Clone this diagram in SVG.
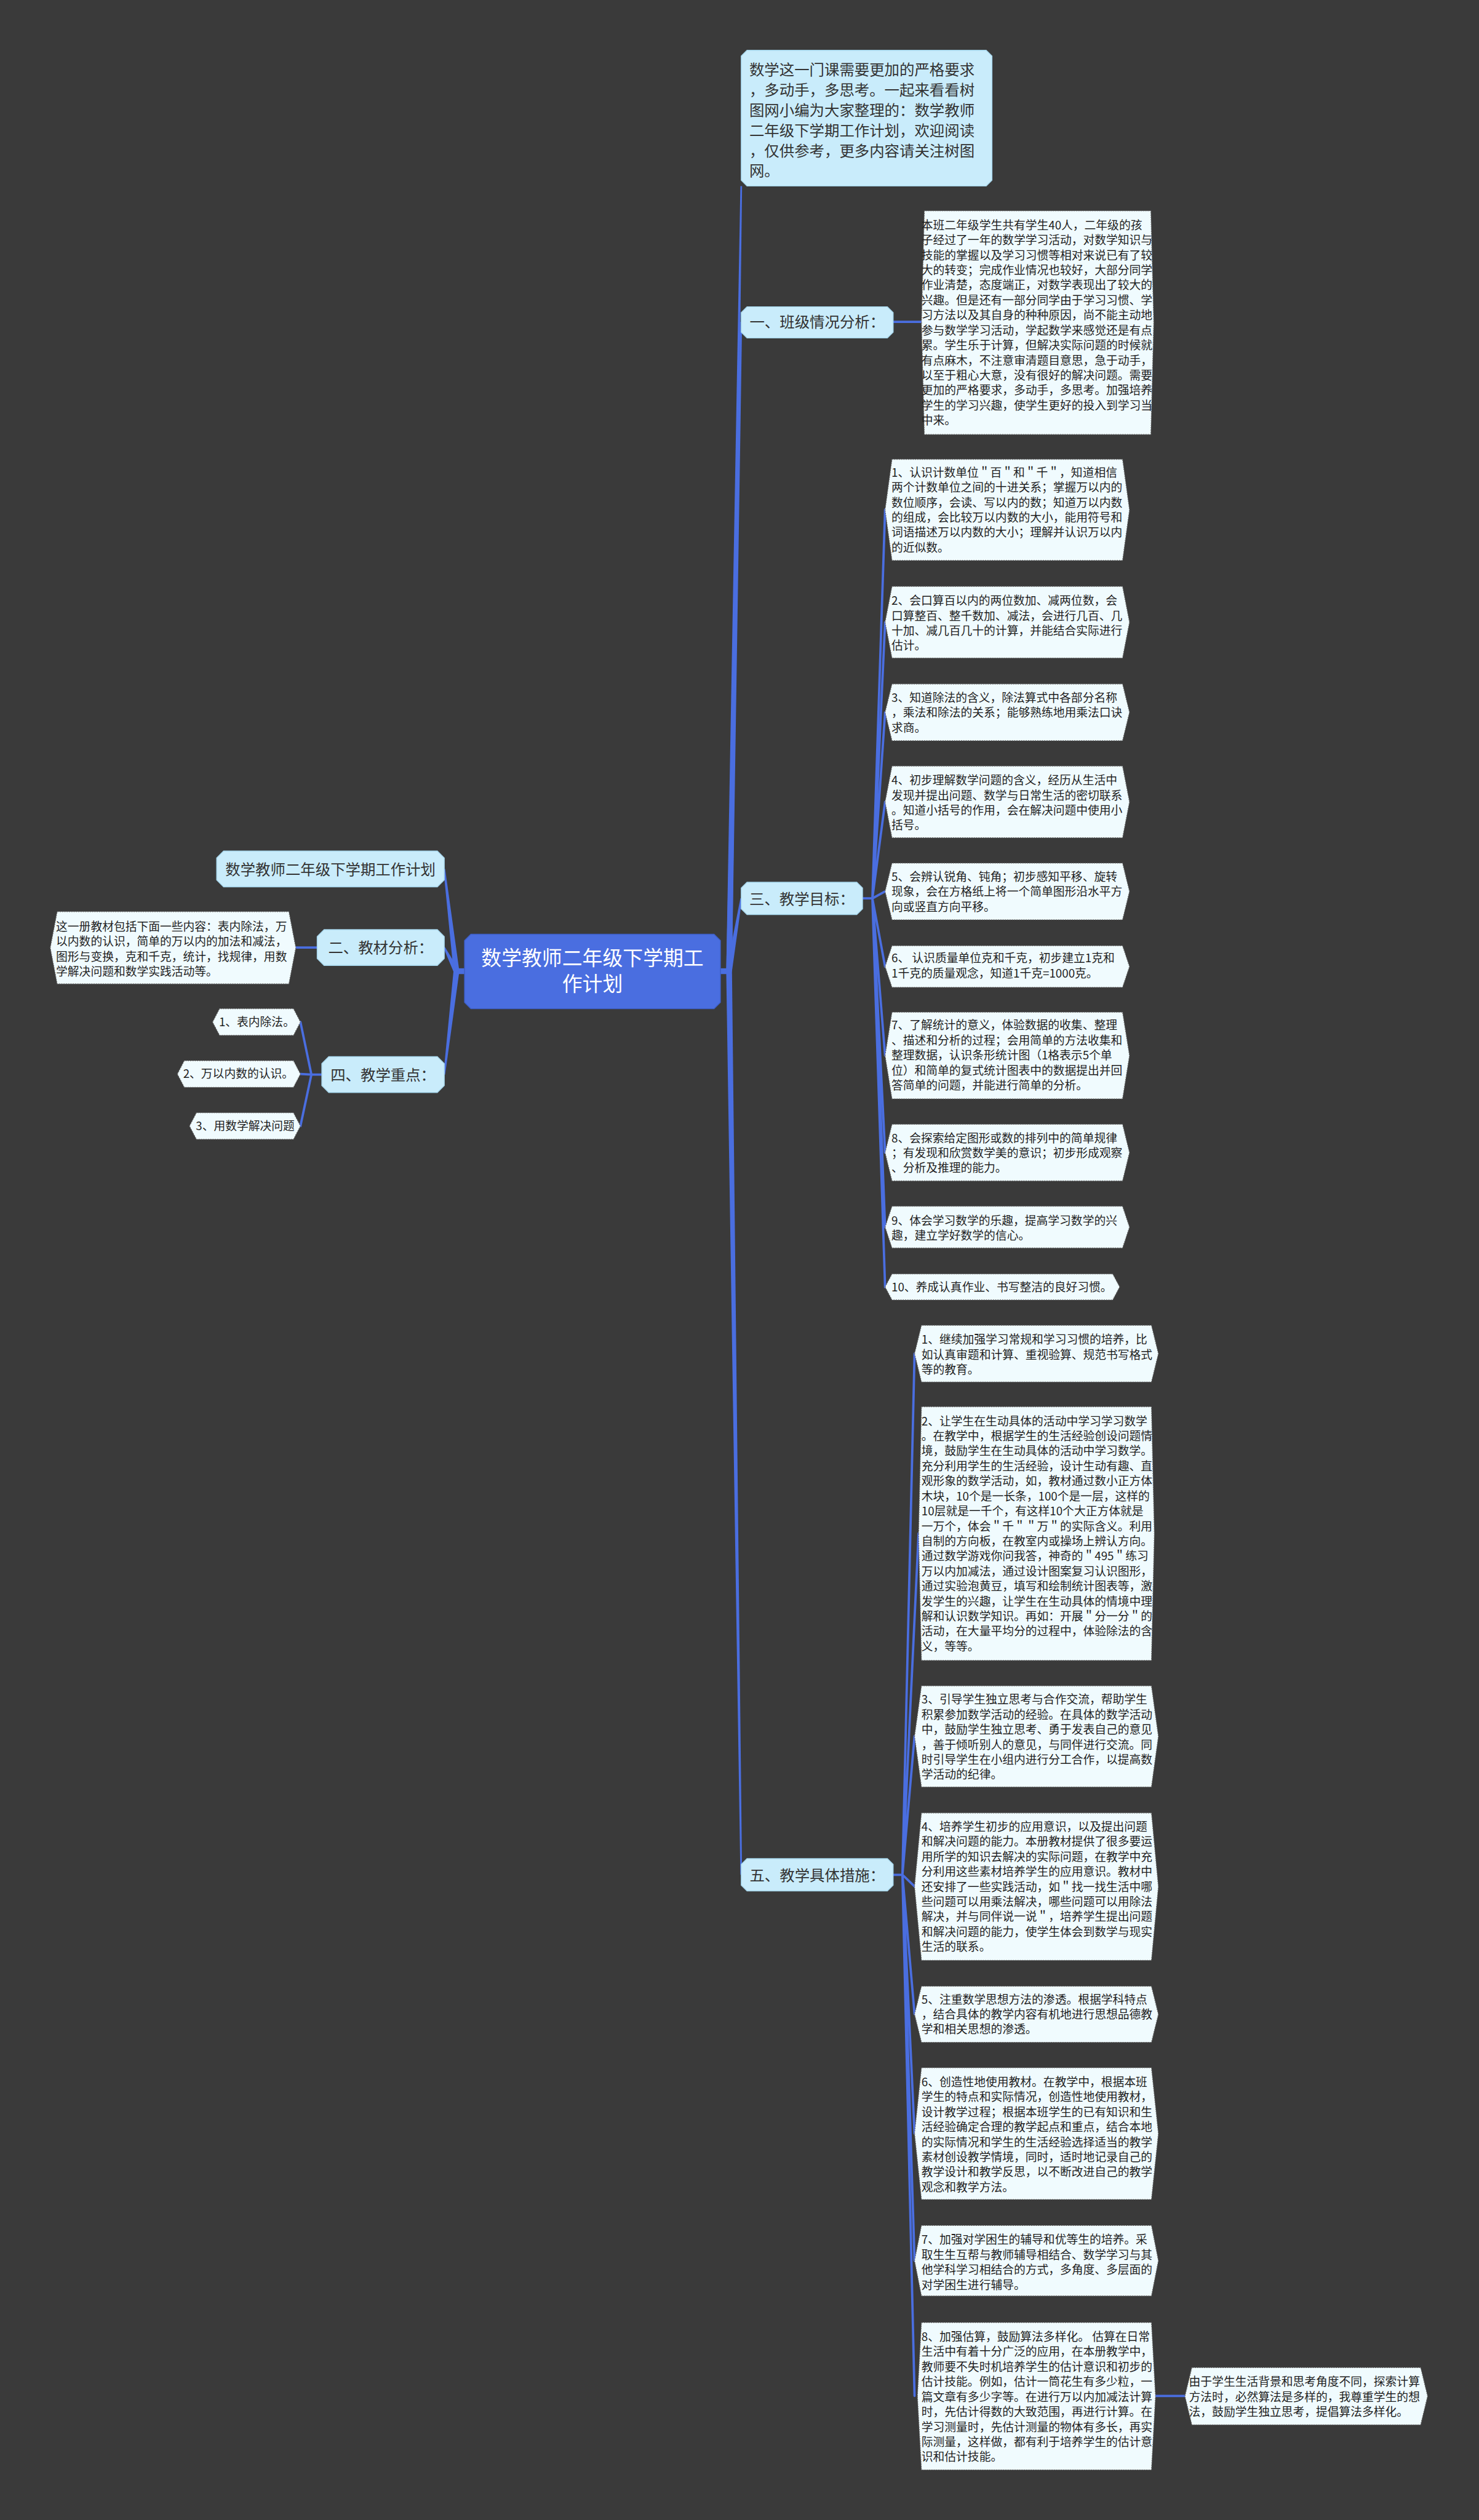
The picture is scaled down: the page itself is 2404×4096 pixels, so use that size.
<svg xmlns="http://www.w3.org/2000/svg" width="2404" height="4096" viewBox="0 0 2404 4096">
<style>
.bg{fill:#3a3a3a}
.l2{fill:#c9ecfb;stroke:#a6d6ec;stroke-width:1.5}
.l3{fill:#f0fbfe;stroke:#666;stroke-width:1.3;stroke-dasharray:2 2}
.root{fill:#4a6ee0;stroke:#3d5ec4;stroke-width:1.5}
.t3{font-family:"Noto Sans CJK SC","Noto Sans",sans-serif;font-size:20px;fill:#1e1e1e}
.t2{font-family:"Noto Sans CJK SC","Noto Sans",sans-serif;font-size:26px;fill:#333}
.tr{font-family:"Noto Sans CJK SC","Noto Sans",sans-serif;font-size:35px;fill:#fff;text-anchor:middle}
.mid{text-anchor:middle}
.conn{stroke:#4a6ee0;stroke-width:4;fill:none;stroke-linecap:round}
.trunk{fill:#4a6ee0}
</style>
<rect class="bg" x="0" y="0" width="2404" height="4096"/>
<g transform="scale(0.9390625)">
<g id="connectors">
<rect class="trunk" x="1245" y="1676" width="19" height="10"/>
<polygon class="trunk" points="1267,1681 1284.5,322 1281.5,322 1257,1681"/>
<polygon class="trunk" points="1267,1681 1284.5,557 1281.5,557 1257,1681"/>
<polygon class="trunk" points="1266.9,1681.8 1284.5,1555.2 1281.5,1554.8 1257.1,1680.2"/>
<polygon class="trunk" points="1257,1681 1281.5,3245 1284.5,3245 1267,1681"/>
<rect class="trunk" x="788" y="1676" width="18" height="10"/>
<polygon class="trunk" points="795,1680.4 770.5,1503.8 767.5,1504.2 785,1681.6"/>
<polygon class="trunk" points="794.4,1678.7 770.3,1639.3 767.7,1640.7 785.6,1683.3"/>
<polygon class="trunk" points="785,1680.4 767.5,1859.8 770.5,1860.2 795,1681.6"/>
<path class="conn" d="M512,1640H549"/>
<path class="conn" d="M557,1860H539M539,1860L520,1769M539,1860L520,1859M539,1860L520,1949"/>
<path class="conn" d="M1546,557H1595"/>
<path class="conn" d="M1493,1555H1510M1510,1555L1532,882M1510,1555L1532,1077M1510,1555L1532,1233M1510,1555L1532,1388M1510,1555L1532,1543M1510,1555L1532,1673M1510,1555L1532,1827M1510,1555L1532,1995M1510,1555L1532,2124M1510,1555L1532,2228"/>
<path class="conn" d="M1546,3245H1562M1562,3245L1583,2343M1562,3245L1590,2654M1562,3245L1583,3005M1562,3245L1583,3265M1562,3245L1583,3486M1562,3245L1583,3693M1562,3245L1583,3913M1562,3245L1583,4147"/>
<path class="conn" d="M2000,4147H2051"/>
</g>
<g id="root">
<polygon class="root" points="815,1617 1236,1617 1247,1628 1247,1735 1236,1746 815,1746 804,1735 804,1628"/>
<text class="tr" x="1025.5" y="1671">数学教师二年级下学期工</text>
<text class="tr" x="1025.5" y="1716">作计划</text>
</g>
<g id="intro">
<polygon class="l2" points="1293,87 1707,87 1717,97 1717,312 1707,322 1293,322 1283,312 1283,97"/>
<text class="t2" x="1297" y="130"><tspan x="1297">数学这一门课需要更加的严格要求</tspan><tspan x="1297" dy="35">，多动手，多思考。一起来看看树</tspan><tspan x="1297" dy="35">图网小编为大家整理的：数学教师</tspan><tspan x="1297" dy="35">二年级下学期工作计划，欢迎阅读</tspan><tspan x="1297" dy="35">，仅供参考，更多内容请关注树图</tspan><tspan x="1297" dy="35">网。</tspan></text>
</g>
<g id="b1">
<polygon class="l2" points="1293,531 1536,531 1546,541 1546,575 1536,585 1293,585 1283,575 1283,541"/>
<text class="t2 mid" x="1414.5" y="567">一、班级情况分析：</text>
</g>
<g id="b1c">
<polygon class="l3" points="1595,558.5 1600,365 1992,365 1997,558.5 1992,752 1600,752"/>
<text class="t3" x="1595" y="397"><tspan x="1595">本班二年级学生共有学生40人，二年级的孩</tspan><tspan x="1595" dy="26">子经过了一年的数学学习活动，对数学知识与</tspan><tspan x="1595" dy="26">技能的掌握以及学习习惯等相对来说已有了较</tspan><tspan x="1595" dy="26">大的转变；完成作业情况也较好，大部分同学</tspan><tspan x="1595" dy="26">作业清楚，态度端正，对数学表现出了较大的</tspan><tspan x="1595" dy="26">兴趣。但是还有一部分同学由于学习习惯、学</tspan><tspan x="1595" dy="26">习方法以及其自身的种种原因，尚不能主动地</tspan><tspan x="1595" dy="26">参与数学学习活动，学起数学来感觉还是有点</tspan><tspan x="1595" dy="26">累。学生乐于计算，但解决实际问题的时候就</tspan><tspan x="1595" dy="26">有点麻木，不注意审清题目意思，急于动手，</tspan><tspan x="1595" dy="26">以至于粗心大意，没有很好的解决问题。需要</tspan><tspan x="1595" dy="26">更加的严格要求，多动手，多思考。加强培养</tspan><tspan x="1595" dy="26">学生的学习兴趣，使学生更好的投入到学习当</tspan><tspan x="1595" dy="26">中来。</tspan></text>
</g>
<g id="b3">
<polygon class="l2" points="1293,1527 1483,1527 1493,1537 1493,1573 1483,1583 1293,1583 1283,1573 1283,1537"/>
<text class="t2 mid" x="1388" y="1565">三、教学目标：</text>
</g>
<g id="g1">
<polygon class="l3" points="1532,882.5 1544,795 1943,795 1955,882.5 1943,970 1544,970"/>
<text class="t3" x="1543" y="825"><tspan x="1543">1、认识计数单位＂百＂和＂千＂，知道相信</tspan><tspan x="1543" dy="26">两个计数单位之间的十进关系；掌握万以内的</tspan><tspan x="1543" dy="26">数位顺序，会读、写以内的数；知道万以内数</tspan><tspan x="1543" dy="26">的组成，会比较万以内数的大小，能用符号和</tspan><tspan x="1543" dy="26">词语描述万以内数的大小；理解并认识万以内</tspan><tspan x="1543" dy="26">的近似数。</tspan></text>
</g>
<g id="g2">
<polygon class="l3" points="1532,1077 1544,1015 1943,1015 1955,1077 1943,1139 1544,1139"/>
<text class="t3" x="1543" y="1047"><tspan x="1543">2、会口算百以内的两位数加、减两位数，会</tspan><tspan x="1543" dy="26">口算整百、整千数加、减法，会进行几百、几</tspan><tspan x="1543" dy="26">十加、减几百几十的计算，并能结合实际进行</tspan><tspan x="1543" dy="26">估计。</tspan></text>
</g>
<g id="g3">
<polygon class="l3" points="1532,1233 1544,1184 1943,1184 1955,1233 1943,1282 1544,1282"/>
<text class="t3" x="1543" y="1215"><tspan x="1543">3、知道除法的含义，除法算式中各部分名称</tspan><tspan x="1543" dy="26">，乘法和除法的关系；能够熟练地用乘法口诀</tspan><tspan x="1543" dy="26">求商。</tspan></text>
</g>
<g id="g4">
<polygon class="l3" points="1532,1388 1544,1326 1943,1326 1955,1388 1943,1450 1544,1450"/>
<text class="t3" x="1543" y="1358"><tspan x="1543">4、初步理解数学问题的含义，经历从生活中</tspan><tspan x="1543" dy="26">发现并提出问题、数学与日常生活的密切联系</tspan><tspan x="1543" dy="26">。知道小括号的作用，会在解决问题中使用小</tspan><tspan x="1543" dy="26">括号。</tspan></text>
</g>
<g id="g5">
<polygon class="l3" points="1532,1543 1544,1494 1943,1494 1955,1543 1943,1592 1544,1592"/>
<text class="t3" x="1543" y="1525"><tspan x="1543">5、会辨认锐角、钝角；初步感知平移、旋转</tspan><tspan x="1543" dy="26">现象，会在方格纸上将一个简单图形沿水平方</tspan><tspan x="1543" dy="26">向或竖直方向平移。</tspan></text>
</g>
<g id="g6">
<polygon class="l3" points="1532,1673 1544,1637 1943,1637 1955,1673 1943,1709 1544,1709"/>
<text class="t3" x="1543" y="1666"><tspan x="1543">6、 认识质量单位克和千克，初步建立1克和</tspan><tspan x="1543" dy="26">1千克的质量观念，知道1千克=1000克。</tspan></text>
</g>
<g id="g7">
<polygon class="l3" points="1532,1827 1544,1752 1943,1752 1955,1827 1943,1902 1544,1902"/>
<text class="t3" x="1543" y="1782"><tspan x="1543">7、了解统计的意义，体验数据的收集、整理</tspan><tspan x="1543" dy="26">、描述和分析的过程；会用简单的方法收集和</tspan><tspan x="1543" dy="26">整理数据，认识条形统计图（1格表示5个单</tspan><tspan x="1543" dy="26">位）和简单的复式统计图表中的数据提出并回</tspan><tspan x="1543" dy="26">答简单的问题，并能进行简单的分析。</tspan></text>
</g>
<g id="g8">
<polygon class="l3" points="1532,1995 1544,1946 1943,1946 1955,1995 1943,2044 1544,2044"/>
<text class="t3" x="1543" y="1977"><tspan x="1543">8、会探索给定图形或数的排列中的简单规律</tspan><tspan x="1543" dy="26">；有发现和欣赏数学美的意识；初步形成观察</tspan><tspan x="1543" dy="26">、分析及推理的能力。</tspan></text>
</g>
<g id="g9">
<polygon class="l3" points="1532,2124 1544,2088 1943,2088 1955,2124 1943,2160 1544,2160"/>
<text class="t3" x="1543" y="2120"><tspan x="1543">9、体会学习数学的乐趣，提高学习数学的兴</tspan><tspan x="1543" dy="26">趣，建立学好数学的信心。</tspan></text>
</g>
<g id="g10">
<polygon class="l3" points="1532,2227.5 1544,2205 1926,2205 1938,2227.5 1926,2250 1544,2250"/>
<text class="t3" x="1543" y="2235">10、养成认真作业、书写整洁的良好习惯。</text>
</g>
<g id="b5">
<polygon class="l2" points="1293,3217 1536,3217 1546,3227 1546,3263 1536,3273 1293,3273 1283,3263 1283,3227"/>
<text class="t2 mid" x="1414.5" y="3255">五、教学具体措施：</text>
</g>
<g id="m1">
<polygon class="l3" points="1583,2343 1595,2294 1993,2294 2005,2343 1993,2392 1595,2392"/>
<text class="t3" x="1595" y="2326"><tspan x="1595">1、继续加强学习常规和学习习惯的培养，比</tspan><tspan x="1595" dy="26">如认真审题和计算、重视验算、规范书写格式</tspan><tspan x="1595" dy="26">等的教育。</tspan></text>
</g>
<g id="m2">
<polygon class="l3" points="1590,2654.5 1595,2435 1993,2435 1998,2654.5 1993,2874 1595,2874"/>
<text class="t3" x="1595" y="2467"><tspan x="1595">2、让学生在生动具体的活动中学习学习数学</tspan><tspan x="1595" dy="26">。在教学中，根据学生的生活经验创设问题情</tspan><tspan x="1595" dy="26">境，鼓励学生在生动具体的活动中学习数学。</tspan><tspan x="1595" dy="26">充分利用学生的生活经验，设计生动有趣、直</tspan><tspan x="1595" dy="26">观形象的数学活动，如，教材通过数小正方体</tspan><tspan x="1595" dy="26">木块，10个是一长条，100个是一层，这样的</tspan><tspan x="1595" dy="26">10层就是一千个，有这样10个大正方体就是</tspan><tspan x="1595" dy="26">一万个，体会＂千＂＂万＂的实际含义。利用</tspan><tspan x="1595" dy="26">自制的方向板，在教室内或操场上辨认方向。</tspan><tspan x="1595" dy="26">通过数学游戏你问我答，神奇的＂495＂练习</tspan><tspan x="1595" dy="26">万以内加减法，通过设计图案复习认识图形，</tspan><tspan x="1595" dy="26">通过实验泡黄豆，填写和绘制统计图表等，激</tspan><tspan x="1595" dy="26">发学生的兴趣，让学生在生动具体的情境中理</tspan><tspan x="1595" dy="26">解和认识数学知识。再如：开展＂分一分＂的</tspan><tspan x="1595" dy="26">活动，在大量平均分的过程中，体验除法的含</tspan><tspan x="1595" dy="26">义，等等。</tspan></text>
</g>
<g id="m3">
<polygon class="l3" points="1583,3005.5 1595,2918 1993,2918 2005,3005.5 1993,3093 1595,3093"/>
<text class="t3" x="1595" y="2949"><tspan x="1595">3、引导学生独立思考与合作交流，帮助学生</tspan><tspan x="1595" dy="26">积累参加数学活动的经验。在具体的数学活动</tspan><tspan x="1595" dy="26">中，鼓励学生独立思考、勇于发表自己的意见</tspan><tspan x="1595" dy="26">，善于倾听别人的意见，与同伴进行交流。同</tspan><tspan x="1595" dy="26">时引导学生在小组内进行分工合作，以提高数</tspan><tspan x="1595" dy="26">学活动的纪律。</tspan></text>
</g>
<g id="m4">
<polygon class="l3" points="1583,3265.5 1595,3138 1993,3138 2005,3265.5 1993,3393 1595,3393"/>
<text class="t3" x="1595" y="3169"><tspan x="1595">4、培养学生初步的应用意识，以及提出问题</tspan><tspan x="1595" dy="26">和解决问题的能力。本册教材提供了很多要运</tspan><tspan x="1595" dy="26">用所学的知识去解决的实际问题，在教学中充</tspan><tspan x="1595" dy="26">分利用这些素材培养学生的应用意识。教材中</tspan><tspan x="1595" dy="26">还安排了一些实践活动，如＂找一找生活中哪</tspan><tspan x="1595" dy="26">些问题可以用乘法解决，哪些问题可以用除法</tspan><tspan x="1595" dy="26">解决，并与同伴说一说＂，培养学生提出问题</tspan><tspan x="1595" dy="26">和解决问题的能力，使学生体会到数学与现实</tspan><tspan x="1595" dy="26">生活的联系。</tspan></text>
</g>
<g id="m5">
<polygon class="l3" points="1583,3486.5 1595,3438 1993,3438 2005,3486.5 1993,3535 1595,3535"/>
<text class="t3" x="1595" y="3468"><tspan x="1595">5、注重数学思想方法的渗透。根据学科特点</tspan><tspan x="1595" dy="26">，结合具体的教学内容有机地进行思想品德教</tspan><tspan x="1595" dy="26">学和相关思想的渗透。</tspan></text>
</g>
<g id="m6">
<polygon class="l3" points="1583,3693 1595,3579 1993,3579 2005,3693 1993,3807 1595,3807"/>
<text class="t3" x="1595" y="3611"><tspan x="1595">6、创造性地使用教材。在教学中，根据本班</tspan><tspan x="1595" dy="26">学生的特点和实际情况，创造性地使用教材，</tspan><tspan x="1595" dy="26">设计教学过程；根据本班学生的已有知识和生</tspan><tspan x="1595" dy="26">活经验确定合理的教学起点和重点，结合本地</tspan><tspan x="1595" dy="26">的实际情况和学生的生活经验选择适当的教学</tspan><tspan x="1595" dy="26">素材创设教学情境，同时，适时地记录自己的</tspan><tspan x="1595" dy="26">教学设计和教学反思，以不断改进自己的教学</tspan><tspan x="1595" dy="26">观念和教学方法。</tspan></text>
</g>
<g id="m7">
<polygon class="l3" points="1583,3913 1595,3852 1993,3852 2005,3913 1993,3974 1595,3974"/>
<text class="t3" x="1595" y="3884"><tspan x="1595">7、加强对学困生的辅导和优等生的培养。采</tspan><tspan x="1595" dy="26">取生生互帮与教师辅导相结合、数学学习与其</tspan><tspan x="1595" dy="26">他学科学习相结合的方式，多角度、多层面的</tspan><tspan x="1595" dy="26">对学困生进行辅导。</tspan></text>
</g>
<g id="m8">
<polygon class="l3" points="1588,4147.5 1595,4020 1993,4020 2000,4147.5 1993,4275 1595,4275"/>
<text class="t3" x="1595" y="4052"><tspan x="1595">8、加强估算，鼓励算法多样化。 估算在日常</tspan><tspan x="1595" dy="26">生活中有着十分广泛的应用，在本册教学中，</tspan><tspan x="1595" dy="26">教师要不失时机培养学生的估计意识和初步的</tspan><tspan x="1595" dy="26">估计技能。例如，估计一筒花生有多少粒，一</tspan><tspan x="1595" dy="26">篇文章有多少字等。在进行万以内加减法计算</tspan><tspan x="1595" dy="26">时，先估计得数的大致范围，再进行计算。在</tspan><tspan x="1595" dy="26">学习测量时，先估计测量的物体有多长，再实</tspan><tspan x="1595" dy="26">际测量，这样做，都有利于培养学生的估计意</tspan><tspan x="1595" dy="26">识和估计技能。</tspan></text>
</g>
<g id="m8c">
<polygon class="l3" points="2051,4147.5 2063,4098 2459,4098 2471,4147.5 2459,4197 2063,4197"/>
<text class="t3" x="2058" y="4130"><tspan x="2058">由于学生生活背景和思考角度不同，探索计算</tspan><tspan x="2058" dy="26">方法时，必然算法是多样的，我尊重学生的想</tspan><tspan x="2058" dy="26">法，鼓励学生独立思考，提倡算法多样化。</tspan></text>
</g>
<g id="lt">
<polygon class="l2" points="387,1473 757,1473 769,1485 769,1523 757,1535 387,1535 375,1523 375,1485"/>
<text class="t2 mid" x="572" y="1514">数学教师二年级下学期工作计划</text>
</g>
<g id="b2">
<polygon class="l2" points="561,1609 757,1609 769,1621 769,1659 757,1671 561,1671 549,1659 549,1621"/>
<text class="t2 mid" x="659" y="1650">二、教材分析：</text>
</g>
<g id="b2c">
<polygon class="l3" points="87,1640.5 99,1578 500,1578 512,1640.5 500,1703 99,1703"/>
<text class="t3" x="97" y="1611"><tspan x="97">这一册教材包括下面一些内容：表内除法，万</tspan><tspan x="97" dy="26">以内数的认识，简单的万以内的加法和减法，</tspan><tspan x="97" dy="26">图形与变换，克和千克，统计，找规律，用数</tspan><tspan x="97" dy="26">学解决问题和数学实践活动等。</tspan></text>
</g>
<g id="b4">
<polygon class="l2" points="569,1829 757,1829 769,1841 769,1879 757,1891 569,1891 557,1879 557,1841"/>
<text class="t2 mid" x="663" y="1870">四、教学重点：</text>
</g>
<g id="k1">
<polygon class="l3" points="368,1769 380,1746 508,1746 520,1769 508,1792 380,1792"/>
<text class="t3" x="379" y="1776">1、表内除法。</text>
</g>
<g id="k2">
<polygon class="l3" points="307,1859 319,1836 508,1836 520,1859 508,1882 319,1882"/>
<text class="t3" x="317" y="1866">2、万以内数的认识。</text>
</g>
<g id="k3">
<polygon class="l3" points="328,1949 340,1926 508,1926 520,1949 508,1972 340,1972"/>
<text class="t3" x="339" y="1956">3、用数学解决问题</text>
</g>
</g>
</svg>
